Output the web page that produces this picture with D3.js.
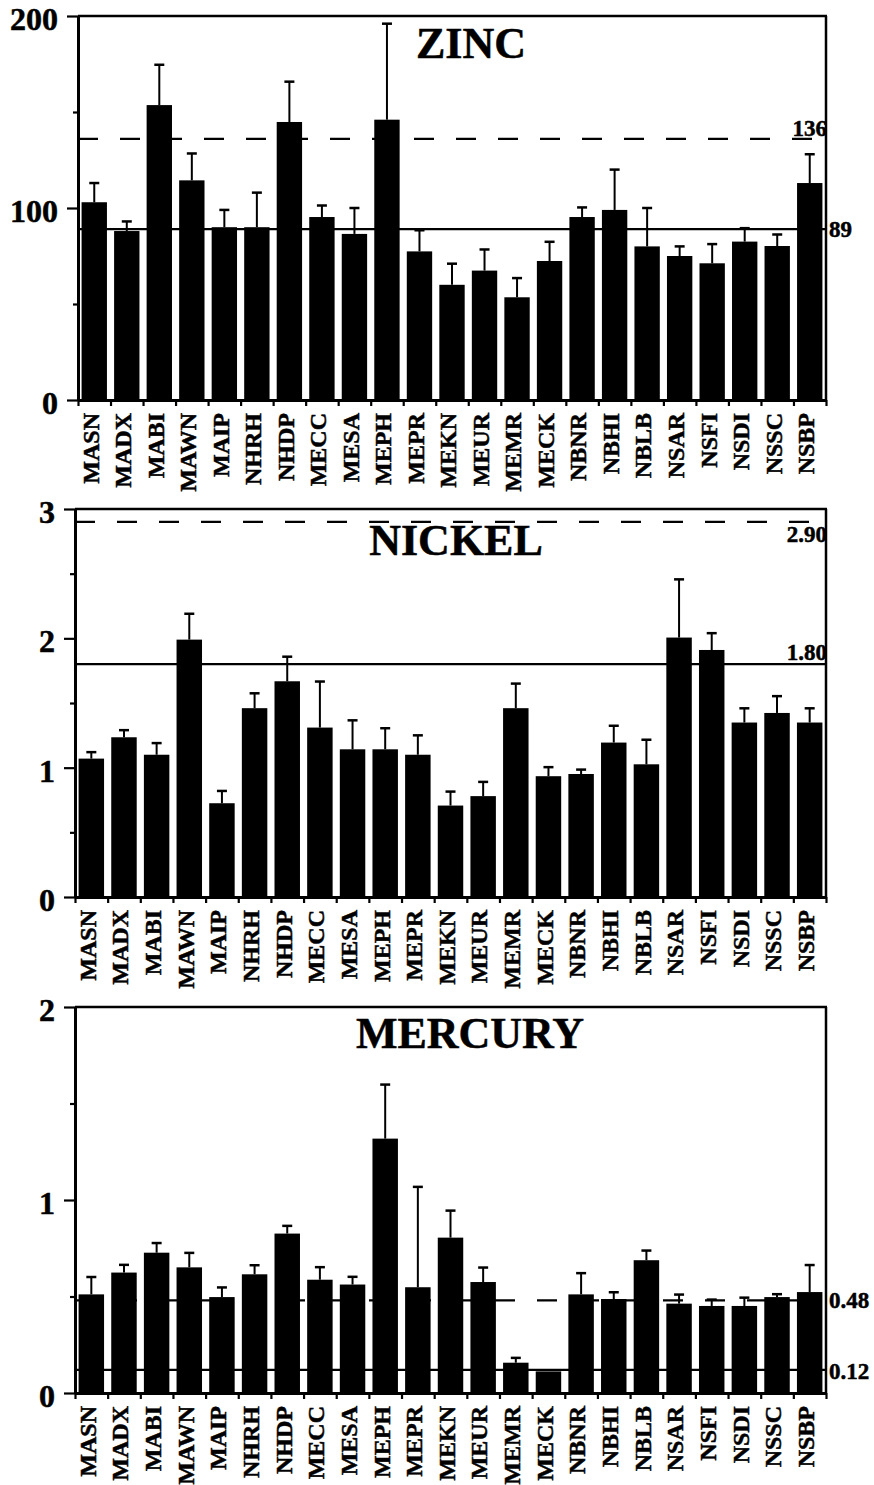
<!DOCTYPE html>
<html>
<head>
<meta charset="utf-8">
<script src="https://cdn.jsdelivr.net/npm/d3@7"></script>
<style>
  body { margin: 0; background: #fff; }
  svg { display: block; }
  text { font-family: "Liberation Serif", "Times New Roman", serif; font-weight: bold; fill: #000;
         stroke: #000; stroke-width: 0.5px; }
</style>
</head>
<body>
<svg id="chart" width="874" height="1485"></svg>
<script>
// Sampling sites (same order in all three panels)
const sites = ["MASN","MADX","MABI","MAWN","MAIP","NHRH","NHDP","MECC","MESA","MEPH","MEPR",
               "MEKN","MEUR","MEMR","MECK","NBNR","NBHI","NBLB","NSAR","NSFI","NSDI","NSSC","NSBP"];

// Zinc: mean concentration and standard error
const zincMean = [103, 88, 153.6, 114.4, 90, 90, 144.8, 95.3, 86.5, 146, 77.4,
                  60, 67.4, 53.5, 72.4, 95.3, 99, 80, 75, 71.2, 82.5, 80.2, 113];
const zincErr  = [10, 5, 21, 14, 9, 18, 21, 6, 13.5, 50, 11,
                  11, 11, 10, 10, 5, 21, 20, 5, 10, 7, 6, 15];

// Nickel
const nickelMean = [1.07, 1.235, 1.10, 1.99, 0.725, 1.46, 1.668, 1.31, 1.142, 1.142, 1.10,
                    0.707, 0.78, 1.46, 0.934, 0.951, 1.194, 1.026, 2.006, 1.91, 1.349, 1.423, 1.349];
const nickelErr  = [0.05, 0.055, 0.09, 0.20, 0.095, 0.115, 0.19, 0.356, 0.224, 0.163, 0.15,
                    0.108, 0.11, 0.19, 0.07, 0.034, 0.13, 0.19, 0.45, 0.13, 0.11, 0.13, 0.11];

// Mercury
const mercuryMean = [0.511, 0.624, 0.727, 0.651, 0.497, 0.615, 0.826, 0.587, 0.562, 1.318, 0.548,
                     0.805, 0.575, 0.157, 0.112, 0.511, 0.487, 0.688, 0.463, 0.451, 0.451, 0.497, 0.523];
const mercuryErr  = [0.09, 0.04, 0.05, 0.075, 0.05, 0.047, 0.04, 0.065, 0.04, 0.28, 0.52,
                     0.14, 0.075, 0.025, 0, 0.11, 0.035, 0.05, 0.047, 0.033, 0.043, 0.015, 0.14];

// Axis ticks
const zincTicks = [0, 100, 200],        zincMinor = [50, 150];
const nickelTicks = [0, 1, 2, 3],       nickelMinor = [0.5, 1.5, 2.5];
const mercuryTicks = [0, 1, 2],         mercuryMinor = [0.5, 1.5];

// Guideline values (dashed = upper, solid = lower)
const zincGuides = [136, 89],       zincGuideLabels = ["136", "89"];
const nickelGuides = [2.90, 1.80],  nickelGuideLabels = ["2.90", "1.80"];
const mercuryGuides = [0.48, 0.12], mercuryGuideLabels = ["0.48", "0.12"];

const svg = d3.select("#chart");

const panels = [
  { title: "ZINC", mean: zincMean, err: zincErr, ticks: zincTicks, minor: zincMinor,
    guides: zincGuides, guideLabels: zincGuideLabels,
    box: { left: 78, right: 826, top: 16, bottom: 400 }, titleX: 471, titleY: 58,
    guideStyle: [{ anchor: "end", dx: 1, dy: -2.5, dyEm: 0 }, { anchor: "start", dx: 3, dy: 0, dyEm: 0.35 }] },
  { title: "NICKEL", mean: nickelMean, err: nickelErr, ticks: nickelTicks, minor: nickelMinor,
    guides: nickelGuides, guideLabels: nickelGuideLabels,
    box: { left: 75, right: 826, top: 509, bottom: 897 }, titleX: 456, titleY: 555,
    guideStyle: [{ anchor: "end", dx: 1, dy: 20, dyEm: 0 }, { anchor: "end", dx: 1, dy: -4, dyEm: 0 }] },
  { title: "MERCURY", mean: mercuryMean, err: mercuryErr, ticks: mercuryTicks, minor: mercuryMinor,
    guides: mercuryGuides, guideLabels: mercuryGuideLabels,
    box: { left: 75, right: 826, top: 1007, bottom: 1393 }, titleX: 470, titleY: 1048,
    guideStyle: [{ anchor: "start", dx: 3, dy: 0, dyEm: 0.35 }, { anchor: "start", dx: 3, dy: 1.5, dyEm: 0.35 }] }
];

panels.forEach(p => {
  const b = p.box;
  const g = svg.append("g");
  const yMax = d3.max(p.ticks);

  const y = d3.scaleLinear().domain([0, yMax]).range([b.bottom, b.top]);
  const x = d3.scaleBand().domain(sites).range([b.left, b.right])
    .paddingInner(0.22).paddingOuter(0.11);
  const slots = d3.scaleLinear().domain([0, sites.length]).range([b.left, b.right]);

  const rows = sites.map((s, i) => ({ site: s, mean: p.mean[i], err: p.err[i] }));

  // bars
  g.append("g").selectAll("rect").data(rows).join("rect")
    .attr("x", d => x(d.site))
    .attr("width", x.bandwidth())
    .attr("y", d => y(d.mean))
    .attr("height", d => y(0) - y(d.mean))
    .attr("fill", "#000");

  // error bars (upper only)
  const eb = g.append("g").selectAll("g").data(rows.filter(d => d.err > 0)).join("g");
  eb.append("line")
    .attr("x1", d => x(d.site) + x.bandwidth() / 2)
    .attr("x2", d => x(d.site) + x.bandwidth() / 2)
    .attr("y1", d => y(d.mean))
    .attr("y2", d => y(d.mean + d.err))
    .attr("stroke", "#000").attr("stroke-width", 2);
  eb.append("line")
    .attr("x1", d => x(d.site) + x.bandwidth() / 2 - 5)
    .attr("x2", d => x(d.site) + x.bandwidth() / 2 + 5)
    .attr("y1", d => y(d.mean + d.err))
    .attr("y2", d => y(d.mean + d.err))
    .attr("stroke", "#000").attr("stroke-width", 2.5);

  // guidelines
  p.guides.forEach((v, i) => {
    g.append("line")
      .attr("x1", b.left).attr("x2", b.right)
      .attr("y1", y(v)).attr("y2", y(v))
      .attr("stroke", "#000").attr("stroke-width", 2.2)
      .attr("stroke-dasharray", i === 0 ? "20,22" : null);
    const st = p.guideStyle[i];
    g.append("text")
      .attr("x", b.right + st.dx)
      .attr("y", y(v) + st.dy)
      .attr("dy", st.dyEm + "em")
      .attr("text-anchor", st.anchor)
      .style("font-size", "23px")
      .text(p.guideLabels[i]);
  });

  // frame: top and right
  g.append("line").attr("x1", b.left).attr("x2", b.right + 1)
    .attr("y1", b.top).attr("y2", b.top).attr("stroke", "#000").attr("stroke-width", 2.5);
  g.append("line").attr("x1", b.right).attr("x2", b.right)
    .attr("y1", b.top).attr("y2", b.bottom).attr("stroke", "#000").attr("stroke-width", 2.5);

  // y axis: major ticks with labels, minor ticks without
  const yAxis = g.append("g").attr("transform", `translate(${b.left},0)`)
    .call(d3.axisLeft(y).tickValues(p.ticks).tickSize(11).tickSizeOuter(0).tickPadding(9)
      .tickFormat(d3.format("d")))
    .attr("font-family", null).attr("font-size", null);
  yAxis.selectAll("text").style("font-size", "32px").attr("dy", "0.42em");
  g.append("g").attr("transform", `translate(${b.left},0)`)
    .call(d3.axisLeft(y).tickValues(p.minor).tickSize(5).tickSizeOuter(0).tickFormat(""))
    .call(a => a.select(".domain").remove());

  // x axis: ticks at slot boundaries
  g.append("g").attr("transform", `translate(0,${b.bottom})`)
    .call(d3.axisBottom(slots).tickValues(d3.range(sites.length + 1)).tickSize(6)
      .tickSizeOuter(0).tickFormat(""));

  g.selectAll(".domain").attr("stroke-width", 3);
  g.selectAll(".tick line").attr("stroke-width", 2.2);

  // site labels, rotated
  g.append("g").selectAll("text").data(sites).join("text")
    .attr("transform", d => `translate(${x(d) + x.bandwidth() / 2},${b.bottom + 13}) rotate(-90)`)
    .attr("text-anchor", "end")
    .attr("dy", "0.18em")
    .style("font-size", "24px")
    .text(d => d);

  // panel title
  g.append("text")
    .attr("x", p.titleX).attr("y", p.titleY)
    .attr("text-anchor", "middle")
    .style("font-size", "44px")
    .text(p.title);
});
</script>
</body>
</html>
